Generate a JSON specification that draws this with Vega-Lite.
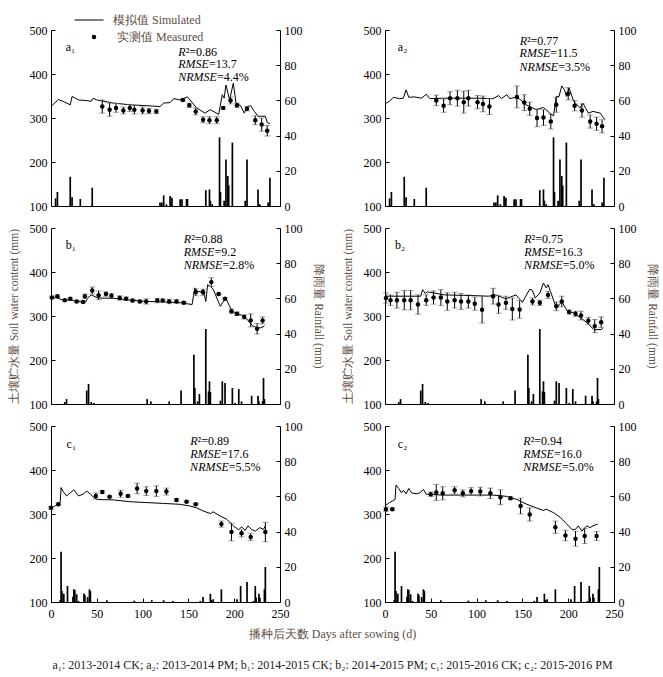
{
"$schema": "https://vega.github.io/schema/vega-lite/v6.json",
"padding": {"left": 8, "top": 5, "right": 5, "bottom": 4},
"background": "white",
"title": {"text": "播种后天数 Days after sowing (d)", "subtitle": "a₁: 2013-2014 CK; a₂: 2013-2014 PM; b₁: 2014-2015 CK; b₂: 2014-2015 PM; c₁: 2015-2016 CK; c₂: 2015-2016 PM", "orient": "bottom", "anchor": "middle", "fontSize": 12, "fontWeight": "normal", "font": "Liberation Serif", "color": "#5c4e44", "subtitleFont": "Liberation Serif", "subtitleFontSize": 12, "subtitleColor": "#222222", "subtitlePadding": 19, "offset": 10},
"datasets": {
"sim": [
{"p":"a1","d":0,"v":326},{"p":"a1","d":8,"v":342},{"p":"a1","d":13,"v":338},{"p":"a1","d":21,"v":330},{"p":"a1","d":23,"v":349},{"p":"a1","d":30,"v":341},{"p":"a1","d":37,"v":340},{"p":"a1","d":44,"v":338},{"p":"a1","d":46,"v":345},{"p":"a1","d":50,"v":341},{"p":"a1","d":68,"v":334},{"p":"a1","d":86,"v":330},{"p":"a1","d":104,"v":328},{"p":"a1","d":119,"v":326},{"p":"a1","d":123,"v":334},{"p":"a1","d":130,"v":335},{"p":"a1","d":134,"v":344},{"p":"a1","d":141,"v":341},{"p":"a1","d":149,"v":348},{"p":"a1","d":159,"v":323},{"p":"a1","d":168,"v":311},{"p":"a1","d":174,"v":319},{"p":"a1","d":183,"v":308},{"p":"a1","d":187,"v":353},{"p":"a1","d":189,"v":345},{"p":"a1","d":191,"v":375},{"p":"a1","d":195,"v":341},{"p":"a1","d":199,"v":379},{"p":"a1","d":202,"v":334},{"p":"a1","d":207,"v":328},{"p":"a1","d":211,"v":311},{"p":"a1","d":214,"v":326},{"p":"a1","d":218,"v":328},{"p":"a1","d":222,"v":315},{"p":"a1","d":226,"v":304},{"p":"a1","d":234,"v":304},{"p":"a1","d":236,"v":290},{"p":"a1","d":239,"v":287},
{"p":"a2","d":0,"v":332},{"p":"a2","d":5,"v":338},{"p":"a2","d":9,"v":347},{"p":"a2","d":16,"v":344},{"p":"a2","d":20,"v":345},{"p":"a2","d":23,"v":364},{"p":"a2","d":26,"v":347},{"p":"a2","d":32,"v":348},{"p":"a2","d":40,"v":345},{"p":"a2","d":45,"v":354},{"p":"a2","d":49,"v":344},{"p":"a2","d":63,"v":345},{"p":"a2","d":82,"v":345},{"p":"a2","d":100,"v":345},{"p":"a2","d":118,"v":344},{"p":"a2","d":124,"v":351},{"p":"a2","d":127,"v":344},{"p":"a2","d":133,"v":353},{"p":"a2","d":136,"v":344},{"p":"a2","d":142,"v":347},{"p":"a2","d":147,"v":343},{"p":"a2","d":155,"v":329},{"p":"a2","d":165,"v":319},{"p":"a2","d":173,"v":324},{"p":"a2","d":180,"v":311},{"p":"a2","d":184,"v":305},{"p":"a2","d":187,"v":349},{"p":"a2","d":190,"v":349},{"p":"a2","d":193,"v":373},{"p":"a2","d":196,"v":364},{"p":"a2","d":198,"v":349},{"p":"a2","d":201,"v":368},{"p":"a2","d":206,"v":338},{"p":"a2","d":213,"v":323},{"p":"a2","d":216,"v":334},{"p":"a2","d":222,"v":311},{"p":"a2","d":227,"v":315},{"p":"a2","d":235,"v":311},{"p":"a2","d":240,"v":296},
{"p":"b1","d":0,"v":342},{"p":"b1","d":7,"v":341},{"p":"b1","d":13,"v":336},{"p":"b1","d":22,"v":336},{"p":"b1","d":33,"v":333},{"p":"b1","d":38,"v":332},{"p":"b1","d":40,"v":341},{"p":"b1","d":44,"v":348},{"p":"b1","d":47,"v":345},{"p":"b1","d":51,"v":341},{"p":"b1","d":69,"v":340},{"p":"b1","d":87,"v":336},{"p":"b1","d":105,"v":333},{"p":"b1","d":124,"v":332},{"p":"b1","d":142,"v":330},{"p":"b1","d":154,"v":326},{"p":"b1","d":157,"v":364},{"p":"b1","d":160,"v":356},{"p":"b1","d":164,"v":355},{"p":"b1","d":166,"v":361},{"p":"b1","d":169,"v":333},{"p":"b1","d":171,"v":371},{"p":"b1","d":174,"v":367},{"p":"b1","d":177,"v":361},{"p":"b1","d":184,"v":326},{"p":"b1","d":185,"v":322},{"p":"b1","d":187,"v":330},{"p":"b1","d":191,"v":339},{"p":"b1","d":196,"v":318},{"p":"b1","d":200,"v":307},{"p":"b1","d":207,"v":303},{"p":"b1","d":213,"v":295},{"p":"b1","d":220,"v":278},{"p":"b1","d":225,"v":273},{"p":"b1","d":229,"v":273},{"p":"b1","d":233,"v":277},
{"p":"b2","d":0,"v":345},{"p":"b2","d":39,"v":345},{"p":"b2","d":41,"v":360},{"p":"b2","d":44,"v":351},{"p":"b2","d":46,"v":355},{"p":"b2","d":65,"v":348},{"p":"b2","d":83,"v":347},{"p":"b2","d":102,"v":346},{"p":"b2","d":113,"v":345},{"p":"b2","d":121,"v":348},{"p":"b2","d":132,"v":339},{"p":"b2","d":143,"v":348},{"p":"b2","d":150,"v":331},{"p":"b2","d":158,"v":361},{"p":"b2","d":161,"v":358},{"p":"b2","d":164,"v":341},{"p":"b2","d":169,"v":352},{"p":"b2","d":173,"v":375},{"p":"b2","d":176,"v":364},{"p":"b2","d":178,"v":371},{"p":"b2","d":182,"v":348},{"p":"b2","d":187,"v":318},{"p":"b2","d":193,"v":333},{"p":"b2","d":199,"v":311},{"p":"b2","d":206,"v":307},{"p":"b2","d":214,"v":295},{"p":"b2","d":221,"v":284},{"p":"b2","d":228,"v":269},{"p":"b2","d":236,"v":269},{"p":"b2","d":238,"v":273},
{"p":"c1","d":0,"v":313},{"p":"c1","d":4,"v":318},{"p":"c1","d":10,"v":326},{"p":"c1","d":11,"v":360},{"p":"c1","d":13,"v":352},{"p":"c1","d":17,"v":341},{"p":"c1","d":21,"v":348},{"p":"c1","d":25,"v":355},{"p":"c1","d":30,"v":341},{"p":"c1","d":35,"v":345},{"p":"c1","d":39,"v":352},{"p":"c1","d":43,"v":345},{"p":"c1","d":46,"v":339},{"p":"c1","d":50,"v":333},{"p":"c1","d":68,"v":332},{"p":"c1","d":86,"v":328},{"p":"c1","d":104,"v":326},{"p":"c1","d":123,"v":324},{"p":"c1","d":141,"v":322},{"p":"c1","d":152,"v":318},{"p":"c1","d":159,"v":314},{"p":"c1","d":166,"v":307},{"p":"c1","d":174,"v":301},{"p":"c1","d":177,"v":305},{"p":"c1","d":185,"v":295},{"p":"c1","d":192,"v":288},{"p":"c1","d":199,"v":273},{"p":"c1","d":205,"v":264},{"p":"c1","d":208,"v":271},{"p":"c1","d":212,"v":263},{"p":"c1","d":215,"v":273},{"p":"c1","d":219,"v":265},{"p":"c1","d":223,"v":261},{"p":"c1","d":228,"v":269},{"p":"c1","d":232,"v":265},{"p":"c1","d":234,"v":273},
{"p":"c2","d":0,"v":318},{"p":"c2","d":5,"v":326},{"p":"c2","d":11,"v":333},{"p":"c2","d":12,"v":366},{"p":"c2","d":15,"v":358},{"p":"c2","d":18,"v":348},{"p":"c2","d":20,"v":354},{"p":"c2","d":23,"v":346},{"p":"c2","d":26,"v":358},{"p":"c2","d":29,"v":348},{"p":"c2","d":34,"v":346},{"p":"c2","d":38,"v":348},{"p":"c2","d":42,"v":356},{"p":"c2","d":45,"v":345},{"p":"c2","d":63,"v":343},{"p":"c2","d":82,"v":343},{"p":"c2","d":100,"v":343},{"p":"c2","d":118,"v":343},{"p":"c2","d":133,"v":340},{"p":"c2","d":144,"v":333},{"p":"c2","d":155,"v":322},{"p":"c2","d":165,"v":314},{"p":"c2","d":173,"v":308},{"p":"c2","d":176,"v":311},{"p":"c2","d":184,"v":303},{"p":"c2","d":191,"v":293},{"p":"c2","d":198,"v":278},{"p":"c2","d":204,"v":265},{"p":"c2","d":208,"v":265},{"p":"c2","d":211,"v":273},{"p":"c2","d":215,"v":261},{"p":"c2","d":220,"v":273},{"p":"c2","d":224,"v":269},{"p":"c2","d":227,"v":273},{"p":"c2","d":232,"v":277}
],
"obs": [
{"p":"a1","d":56,"v":326,"e":15},{"p":"a1","d":64,"v":319,"e":15},{"p":"a1","d":71,"v":323,"e":10},{"p":"a1","d":79,"v":317,"e":8},{"p":"a1","d":86,"v":323,"e":8},{"p":"a1","d":91,"v":319,"e":10},{"p":"a1","d":100,"v":317,"e":8},{"p":"a1","d":107,"v":316,"e":6},{"p":"a1","d":115,"v":315,"e":5},{"p":"a1","d":144,"v":341,"e":3},{"p":"a1","d":151,"v":329,"e":5},{"p":"a1","d":158,"v":315,"e":8},{"p":"a1","d":166,"v":296,"e":7},{"p":"a1","d":173,"v":295,"e":8},{"p":"a1","d":181,"v":295,"e":8},{"p":"a1","d":188,"v":323,"e":3},{"p":"a1","d":196,"v":340,"e":8},{"p":"a1","d":203,"v":329,"e":5},{"p":"a1","d":214,"v":321,"e":5},{"p":"a1","d":223,"v":295,"e":10},{"p":"a1","d":230,"v":285,"e":15},{"p":"a1","d":236,"v":271,"e":12},
{"p":"a2","d":56,"v":340,"e":12},{"p":"a2","d":64,"v":328,"e":15},{"p":"a2","d":71,"v":345,"e":15},{"p":"a2","d":79,"v":345,"e":18},{"p":"a2","d":86,"v":336,"e":25},{"p":"a2","d":91,"v":345,"e":18},{"p":"a2","d":101,"v":336,"e":15},{"p":"a2","d":107,"v":332,"e":18},{"p":"a2","d":114,"v":326,"e":18},{"p":"a2","d":144,"v":348,"e":25},{"p":"a2","d":152,"v":335,"e":18},{"p":"a2","d":158,"v":321,"e":15},{"p":"a2","d":166,"v":300,"e":20},{"p":"a2","d":173,"v":301,"e":18},{"p":"a2","d":181,"v":292,"e":17},{"p":"a2","d":187,"v":330,"e":17},{"p":"a2","d":200,"v":355,"e":14},{"p":"a2","d":207,"v":328,"e":12},{"p":"a2","d":215,"v":317,"e":15},{"p":"a2","d":224,"v":292,"e":15},{"p":"a2","d":231,"v":287,"e":15},{"p":"a2","d":237,"v":281,"e":15},
{"p":"b1","d":1,"v":342,"e":3},{"p":"b1","d":7,"v":345,"e":3},{"p":"b1","d":15,"v":336,"e":2},{"p":"b1","d":21,"v":339,"e":2},{"p":"b1","d":28,"v":333,"e":2},{"p":"b1","d":35,"v":332,"e":2},{"p":"b1","d":37,"v":345,"e":5},{"p":"b1","d":45,"v":358,"e":8},{"p":"b1","d":52,"v":347,"e":10},{"p":"b1","d":60,"v":350,"e":5},{"p":"b1","d":66,"v":346,"e":5},{"p":"b1","d":75,"v":341,"e":5},{"p":"b1","d":82,"v":339,"e":4},{"p":"b1","d":89,"v":335,"e":3},{"p":"b1","d":97,"v":333,"e":3},{"p":"b1","d":104,"v":333,"e":6},{"p":"b1","d":116,"v":335,"e":5},{"p":"b1","d":122,"v":335,"e":3},{"p":"b1","d":129,"v":333,"e":5},{"p":"b1","d":137,"v":333,"e":4},{"p":"b1","d":145,"v":330,"e":3},{"p":"b1","d":158,"v":354,"e":8},{"p":"b1","d":166,"v":354,"e":7},{"p":"b1","d":175,"v":377,"e":10},{"p":"b1","d":183,"v":350,"e":2},{"p":"b1","d":190,"v":339,"e":3},{"p":"b1","d":197,"v":311,"e":5},{"p":"b1","d":203,"v":305,"e":4},{"p":"b1","d":211,"v":298,"e":5},{"p":"b1","d":218,"v":290,"e":15},{"p":"b1","d":225,"v":271,"e":12},{"p":"b1","d":231,"v":290,"e":8},
{"p":"b2","d":1,"v":341,"e":12},{"p":"b2","d":6,"v":336,"e":12},{"p":"b2","d":13,"v":336,"e":18},{"p":"b2","d":21,"v":336,"e":22},{"p":"b2","d":28,"v":336,"e":22},{"p":"b2","d":36,"v":326,"e":22},{"p":"b2","d":45,"v":336,"e":12},{"p":"b2","d":53,"v":342,"e":15},{"p":"b2","d":61,"v":342,"e":18},{"p":"b2","d":68,"v":333,"e":20},{"p":"b2","d":76,"v":336,"e":18},{"p":"b2","d":83,"v":333,"e":18},{"p":"b2","d":91,"v":333,"e":15},{"p":"b2","d":98,"v":328,"e":15},{"p":"b2","d":106,"v":314,"e":30},{"p":"b2","d":118,"v":345,"e":18},{"p":"b2","d":124,"v":326,"e":20},{"p":"b2","d":132,"v":330,"e":15},{"p":"b2","d":139,"v":316,"e":25},{"p":"b2","d":147,"v":315,"e":20},{"p":"b2","d":161,"v":333,"e":8},{"p":"b2","d":169,"v":330,"e":6},{"p":"b2","d":178,"v":348,"e":8},{"p":"b2","d":187,"v":322,"e":10},{"p":"b2","d":193,"v":333,"e":12},{"p":"b2","d":201,"v":309,"e":5},{"p":"b2","d":208,"v":305,"e":6},{"p":"b2","d":214,"v":301,"e":10},{"p":"b2","d":222,"v":289,"e":8},{"p":"b2","d":229,"v":277,"e":15},{"p":"b2","d":236,"v":286,"e":12},
{"p":"c1","d":0,"v":314,"e":3},{"p":"c1","d":8,"v":322,"e":3},{"p":"c1","d":49,"v":341,"e":7},{"p":"c1","d":56,"v":350,"e":3},{"p":"c1","d":64,"v":339,"e":2},{"p":"c1","d":76,"v":346,"e":8},{"p":"c1","d":84,"v":341,"e":2},{"p":"c1","d":94,"v":358,"e":12},{"p":"c1","d":104,"v":352,"e":10},{"p":"c1","d":115,"v":352,"e":12},{"p":"c1","d":126,"v":351,"e":8},{"p":"c1","d":137,"v":332,"e":3},{"p":"c1","d":148,"v":328,"e":2},{"p":"c1","d":158,"v":322,"e":2},{"p":"c1","d":186,"v":277,"e":7},{"p":"c1","d":197,"v":259,"e":20},{"p":"c1","d":208,"v":256,"e":8},{"p":"c1","d":218,"v":248,"e":8},{"p":"c1","d":234,"v":259,"e":22},
{"p":"c2","d":1,"v":311,"e":5},{"p":"c2","d":8,"v":311,"e":3},{"p":"c2","d":50,"v":345,"e":5},{"p":"c2","d":56,"v":349,"e":18},{"p":"c2","d":63,"v":347,"e":15},{"p":"c2","d":76,"v":354,"e":8},{"p":"c2","d":85,"v":347,"e":8},{"p":"c2","d":94,"v":352,"e":8},{"p":"c2","d":104,"v":351,"e":10},{"p":"c2","d":115,"v":347,"e":12},{"p":"c2","d":126,"v":338,"e":17},{"p":"c2","d":137,"v":336,"e":3},{"p":"c2","d":148,"v":318,"e":18},{"p":"c2","d":158,"v":299,"e":15},{"p":"c2","d":186,"v":270,"e":14},{"p":"c2","d":197,"v":251,"e":12},{"p":"c2","d":208,"v":244,"e":17},{"p":"c2","d":218,"v":250,"e":17},{"p":"c2","d":231,"v":250,"e":10}
],
"rain": [
{"p":"a","d":5,"r":4.3},{"p":"a","d":7,"r":8},{"p":"a","d":21,"r":16.6},{"p":"a","d":23,"r":5},{"p":"a","d":32,"r":4},{"p":"a","d":45,"r":10.4},{"p":"a","d":119,"r":2},{"p":"a","d":121,"r":2},{"p":"a","d":123,"r":6},{"p":"a","d":126,"r":1},{"p":"a","d":130,"r":5.7},{"p":"a","d":132,"r":4.7},{"p":"a","d":141,"r":3.8},{"p":"a","d":143,"r":3.8},{"p":"a","d":148,"r":4},{"p":"a","d":149,"r":4},{"p":"a","d":169,"r":9},{"p":"a","d":173,"r":9.4},{"p":"a","d":174,"r":3},{"p":"a","d":176,"r":1},{"p":"a","d":184,"r":39},{"p":"a","d":185,"r":8},{"p":"a","d":189,"r":3},{"p":"a","d":191,"r":26.4},{"p":"a","d":193,"r":17},{"p":"a","d":194,"r":11.7},{"p":"a","d":198,"r":36},{"p":"a","d":212,"r":3},{"p":"a","d":214,"r":26.4},{"p":"a","d":226,"r":9.4},{"p":"a","d":228,"r":1},{"p":"a","d":237,"r":2},{"p":"a","d":239,"r":16},
{"p":"b","d":15,"r":1.1},{"p":"b","d":17,"r":2.8},{"p":"b","d":39,"r":7.6},{"p":"b","d":41,"r":11.4},{"p":"b","d":44,"r":1.1},{"p":"b","d":47,"r":0.6},{"p":"b","d":105,"r":2.8},{"p":"b","d":109,"r":1.5},{"p":"b","d":129,"r":1.5},{"p":"b","d":142,"r":7.6},{"p":"b","d":156,"r":28},{"p":"b","d":157,"r":9.1},{"p":"b","d":160,"r":1.5},{"p":"b","d":162,"r":5.7},{"p":"b","d":169,"r":42.6},{"p":"b","d":172,"r":7.2},{"p":"b","d":173,"r":12.9},{"p":"b","d":174,"r":6.8},{"p":"b","d":185,"r":1.9},{"p":"b","d":187,"r":12.9},{"p":"b","d":190,"r":11.9},{"p":"b","d":198,"r":9.1},{"p":"b","d":201,"r":0.6},{"p":"b","d":205,"r":8.5},{"p":"b","d":208,"r":1.5},{"p":"b","d":219,"r":4.7},{"p":"b","d":226,"r":4.7},{"p":"b","d":227,"r":1.5},{"p":"b","d":231,"r":1.5},{"p":"b","d":232,"r":14.8},{"p":"b","d":233,"r":2.8},
{"p":"c","d":10,"r":1},{"p":"c","d":11,"r":28.6},{"p":"c","d":12,"r":6.2},{"p":"c","d":14,"r":4.7},{"p":"c","d":18,"r":9.1},{"p":"c","d":24,"r":3},{"p":"c","d":25,"r":7.2},{"p":"c","d":26,"r":6.8},{"p":"c","d":28,"r":4.4},{"p":"c","d":30,"r":0.6},{"p":"c","d":36,"r":4.9},{"p":"c","d":37,"r":3.8},{"p":"c","d":40,"r":2.8},{"p":"c","d":42,"r":7.2},{"p":"c","d":43,"r":6.2},{"p":"c","d":61,"r":1},{"p":"c","d":91,"r":0.8},{"p":"c","d":110,"r":1},{"p":"c","d":123,"r":1},{"p":"c","d":133,"r":0.6},{"p":"c","d":163,"r":0.6},{"p":"c","d":166,"r":2.8},{"p":"c","d":174,"r":4.7},{"p":"c","d":175,"r":1.1},{"p":"c","d":177,"r":1.5},{"p":"c","d":186,"r":7.2},{"p":"c","d":203,"r":1.5},{"p":"c","d":207,"r":9.1},{"p":"c","d":214,"r":11.4},{"p":"c","d":221,"r":0.6},{"p":"c","d":223,"r":9.1},{"p":"c","d":224,"r":2.5},{"p":"c","d":227,"r":4.7},{"p":"c","d":228,"r":2.5},{"p":"c","d":233,"r":7.2},{"p":"c","d":234,"r":19.9}
],
"note": [
{"p":"a1","xs":147,"y":451,"it":"R","tx":"²=0.86"},{"p":"a1","xs":172.4,"y":423,"it":"RMSE","tx":"=13.7"},{"p":"a1","xs":181.1,"y":394,"it":"NRMSE","tx":"=4.4%"},
{"p":"a2","xs":155,"y":474,"it":"R","tx":"²=0.77"},{"p":"a2","xs":180.4,"y":447,"it":"RMSE","tx":"=11.5"},{"p":"a2","xs":189.1,"y":417,"it":"NRMSE","tx":"=3.5%"},
{"p":"b1","xs":153,"y":475,"it":"R","tx":"²=0.88"},{"p":"b1","xs":178.4,"y":445,"it":"RMSE","tx":"=9.2"},{"p":"b1","xs":187.1,"y":415,"it":"NRMSE","tx":"=2.8%"},
{"p":"b2","xs":160,"y":475,"it":"R","tx":"²=0.75"},{"p":"b2","xs":185.4,"y":445,"it":"RMSE","tx":"=16.3"},{"p":"b2","xs":194.1,"y":415,"it":"NRMSE","tx":"=5.0%"},
{"p":"c1","xs":160,"y":466,"it":"R","tx":"²=0.89"},{"p":"c1","xs":185.4,"y":436,"it":"RMSE","tx":"=17.6"},{"p":"c1","xs":194.1,"y":407,"it":"NRMSE","tx":"=5.5%"},
{"p":"c2","xs":159,"y":466,"it":"R","tx":"²=0.94"},{"p":"c2","xs":184.4,"y":436,"it":"RMSE","tx":"=16.0"},{"p":"c2","xs":193.1,"y":407,"it":"NRMSE","tx":"=5.0%"}
],
"tag": [
{"p":"a1","x":16,"y":462,"t":"a₁"},{"p":"a2","x":14,"y":462,"t":"a₂"},{"p":"b1","x":16,"y":461,"t":"b₁"},{"p":"b2","x":11,"y":461,"t":"b₂"},{"p":"c1","x":17,"y":458,"t":"c₁"},{"p":"c2","x":14,"y":458,"t":"c₂"}
]
},
"concat": [
{"width": 229, "height": 176, "resolve": {"scale": {"y": "independent"}, "axis": {"x": "independent"}}, "layer": [
 {"data": {"name": "sim"}, "transform": [{"filter": "datum.p=='a1'"}], "mark": {"type": "line", "strokeWidth": 1},
  "encoding": {"x": {"field": "d", "type": "quantitative", "scale": {"domain": [0, 250], "nice": false, "padding": 0}, "axis": {"labels": false, "ticks": false, "title": null}},
   "y": {"field": "v", "type": "quantitative", "scale": {"domain": [100, 500]}, "axis": {"orient": "left", "values": [100,200,300,400,500], "title": null}},
   "color": {"datum": "模拟值 Simulated", "type": "nominal", "scale": {"range": ["black"]}, "legend": {"orient": "none", "legendX": 23, "legendY": -25, "title": null, "symbolSize": 841, "symbolStrokeWidth": 1, "labelOffset": 9, "padding": 0}}}},
 {"data": {"name": "rain"}, "transform": [{"filter": "datum.p=='a'"}], "mark": {"type": "bar", "color": "black", "width": 1.7},
  "encoding": {"x": {"field": "d", "type": "quantitative", "axis": null},
   "y": {"field": "r", "type": "quantitative", "scale": {"domain": [0, 100]}, "axis": {"orient": "right", "values": [0,20,40,60,80,100], "title": null}}}},
 {"data": {"name": "obs"}, "transform": [{"filter": "datum.p=='a1'"}], "mark": {"type": "errorbar", "color": "black", "ticks": {"color": "#7f7f7f", "size": 6}},
  "encoding": {"x": {"field": "d", "type": "quantitative", "axis": null}, "y": {"field": "v", "type": "quantitative", "scale": {"domain": [100, 500]}, "axis": null}, "yError": {"field": "e"}}},
 {"data": {"name": "obs"}, "transform": [{"filter": "datum.p=='a1'"}], "mark": {"type": "point", "filled": true, "color": "black", "size": 20, "opacity": 1},
  "encoding": {"x": {"field": "d", "type": "quantitative", "axis": null}, "y": {"field": "v", "type": "quantitative", "scale": {"domain": [100, 500]}, "axis": null},
   "shape": {"datum": "实测值 Measured", "type": "nominal", "scale": {"range": ["circle"]}, "legend": {"orient": "none", "legendX": 37, "legendY": 1, "title": null, "symbolSize": 20, "labelOffset": 17, "padding": 0}}}},
 {"data": {"name": "note"}, "transform": [{"filter": "datum.p=='a1'"}], "mark": {"type": "text", "align": "right", "baseline": "middle", "fontStyle": "italic", "fontSize": 12},
  "encoding": {"x": {"field": "xs", "type": "quantitative", "axis": null}, "y": {"field": "y", "type": "quantitative", "scale": {"domain": [100, 500]}, "axis": null}, "text": {"field": "it"}}},
 {"data": {"name": "note"}, "transform": [{"filter": "datum.p=='a1'"}], "mark": {"type": "text", "align": "left", "baseline": "middle", "fontSize": 12},
  "encoding": {"x": {"field": "xs", "type": "quantitative", "axis": null}, "y": {"field": "y", "type": "quantitative", "scale": {"domain": [100, 500]}, "axis": null}, "text": {"field": "tx"}}},
 {"data": {"name": "tag"}, "transform": [{"filter": "datum.p=='a1'"}], "mark": {"type": "text", "align": "left", "baseline": "middle", "fontSize": 12},
  "encoding": {"x": {"field": "x", "type": "quantitative", "axis": null}, "y": {"field": "y", "type": "quantitative", "scale": {"domain": [100, 500]}, "axis": null}, "text": {"field": "t"}}}
]},
{"width": 229, "height": 176, "resolve": {"scale": {"y": "independent"}, "axis": {"x": "independent"}}, "layer": [
 {"data": {"name": "sim"}, "transform": [{"filter": "datum.p=='a2'"}], "mark": {"type": "line", "strokeWidth": 1, "color": "black"},
  "encoding": {"x": {"field": "d", "type": "quantitative", "scale": {"domain": [0, 250], "nice": false, "padding": 0}, "axis": {"labels": false, "ticks": false, "title": null}},
   "y": {"field": "v", "type": "quantitative", "scale": {"domain": [100, 500]}, "axis": {"orient": "left", "values": [100,200,300,400,500], "title": null}}}},
 {"data": {"name": "rain"}, "transform": [{"filter": "datum.p=='a'"}], "mark": {"type": "bar", "color": "black", "width": 1.7},
  "encoding": {"x": {"field": "d", "type": "quantitative", "axis": null},
   "y": {"field": "r", "type": "quantitative", "scale": {"domain": [0, 100]}, "axis": {"orient": "right", "values": [0,20,40,60,80,100], "title": null}}}},
 {"data": {"name": "obs"}, "transform": [{"filter": "datum.p=='a2'"}], "mark": {"type": "errorbar", "color": "black", "ticks": {"color": "#7f7f7f", "size": 6}},
  "encoding": {"x": {"field": "d", "type": "quantitative", "axis": null}, "y": {"field": "v", "type": "quantitative", "scale": {"domain": [100, 500]}, "axis": null}, "yError": {"field": "e"}}},
 {"data": {"name": "obs"}, "transform": [{"filter": "datum.p=='a2'"}], "mark": {"type": "point", "filled": true, "color": "black", "size": 20, "opacity": 1},
  "encoding": {"x": {"field": "d", "type": "quantitative", "axis": null}, "y": {"field": "v", "type": "quantitative", "scale": {"domain": [100, 500]}, "axis": null}}},
 {"data": {"name": "note"}, "transform": [{"filter": "datum.p=='a2'"}], "mark": {"type": "text", "align": "right", "baseline": "middle", "fontStyle": "italic", "fontSize": 12},
  "encoding": {"x": {"field": "xs", "type": "quantitative", "axis": null}, "y": {"field": "y", "type": "quantitative", "scale": {"domain": [100, 500]}, "axis": null}, "text": {"field": "it"}}},
 {"data": {"name": "note"}, "transform": [{"filter": "datum.p=='a2'"}], "mark": {"type": "text", "align": "left", "baseline": "middle", "fontSize": 12},
  "encoding": {"x": {"field": "xs", "type": "quantitative", "axis": null}, "y": {"field": "y", "type": "quantitative", "scale": {"domain": [100, 500]}, "axis": null}, "text": {"field": "tx"}}},
 {"data": {"name": "tag"}, "transform": [{"filter": "datum.p=='a2'"}], "mark": {"type": "text", "align": "left", "baseline": "middle", "fontSize": 12},
  "encoding": {"x": {"field": "x", "type": "quantitative", "axis": null}, "y": {"field": "y", "type": "quantitative", "scale": {"domain": [100, 500]}, "axis": null}, "text": {"field": "t"}}}
]},
{"width": 229, "height": 176, "resolve": {"scale": {"y": "independent"}, "axis": {"x": "independent"}}, "layer": [
 {"data": {"name": "sim"}, "transform": [{"filter": "datum.p=='b1'"}], "mark": {"type": "line", "strokeWidth": 1, "color": "black"},
  "encoding": {"x": {"field": "d", "type": "quantitative", "scale": {"domain": [0, 250], "nice": false, "padding": 0}, "axis": {"labels": false, "ticks": false, "title": null}},
   "y": {"field": "v", "type": "quantitative", "scale": {"domain": [100, 500]}, "axis": {"orient": "left", "values": [100,200,300,400,500], "title": "土壤贮水量 Soil water content (mm)"}}}},
 {"data": {"name": "rain"}, "transform": [{"filter": "datum.p=='b'"}], "mark": {"type": "bar", "color": "black", "width": 1.7},
  "encoding": {"x": {"field": "d", "type": "quantitative", "axis": null},
   "y": {"field": "r", "type": "quantitative", "scale": {"domain": [0, 100]}, "axis": {"orient": "right", "values": [0,20,40,60,80,100], "title": "降雨量 Rainfall (mm)"}}}},
 {"data": {"name": "obs"}, "transform": [{"filter": "datum.p=='b1'"}], "mark": {"type": "errorbar", "color": "black", "ticks": {"color": "#7f7f7f", "size": 6}},
  "encoding": {"x": {"field": "d", "type": "quantitative", "axis": null}, "y": {"field": "v", "type": "quantitative", "scale": {"domain": [100, 500]}, "axis": null}, "yError": {"field": "e"}}},
 {"data": {"name": "obs"}, "transform": [{"filter": "datum.p=='b1'"}], "mark": {"type": "point", "filled": true, "color": "black", "size": 20, "opacity": 1},
  "encoding": {"x": {"field": "d", "type": "quantitative", "axis": null}, "y": {"field": "v", "type": "quantitative", "scale": {"domain": [100, 500]}, "axis": null}}},
 {"data": {"name": "note"}, "transform": [{"filter": "datum.p=='b1'"}], "mark": {"type": "text", "align": "right", "baseline": "middle", "fontStyle": "italic", "fontSize": 12},
  "encoding": {"x": {"field": "xs", "type": "quantitative", "axis": null}, "y": {"field": "y", "type": "quantitative", "scale": {"domain": [100, 500]}, "axis": null}, "text": {"field": "it"}}},
 {"data": {"name": "note"}, "transform": [{"filter": "datum.p=='b1'"}], "mark": {"type": "text", "align": "left", "baseline": "middle", "fontSize": 12},
  "encoding": {"x": {"field": "xs", "type": "quantitative", "axis": null}, "y": {"field": "y", "type": "quantitative", "scale": {"domain": [100, 500]}, "axis": null}, "text": {"field": "tx"}}},
 {"data": {"name": "tag"}, "transform": [{"filter": "datum.p=='b1'"}], "mark": {"type": "text", "align": "left", "baseline": "middle", "fontSize": 12},
  "encoding": {"x": {"field": "x", "type": "quantitative", "axis": null}, "y": {"field": "y", "type": "quantitative", "scale": {"domain": [100, 500]}, "axis": null}, "text": {"field": "t"}}}
]},
{"width": 229, "height": 176, "resolve": {"scale": {"y": "independent"}, "axis": {"x": "independent"}}, "layer": [
 {"data": {"name": "sim"}, "transform": [{"filter": "datum.p=='b2'"}], "mark": {"type": "line", "strokeWidth": 1, "color": "black"},
  "encoding": {"x": {"field": "d", "type": "quantitative", "scale": {"domain": [0, 250], "nice": false, "padding": 0}, "axis": {"labels": false, "ticks": false, "title": null}},
   "y": {"field": "v", "type": "quantitative", "scale": {"domain": [100, 500]}, "axis": {"orient": "left", "values": [100,200,300,400,500], "title": "土壤贮水量 Soil water content (mm)"}}}},
 {"data": {"name": "rain"}, "transform": [{"filter": "datum.p=='b'"}], "mark": {"type": "bar", "color": "black", "width": 1.7},
  "encoding": {"x": {"field": "d", "type": "quantitative", "axis": null},
   "y": {"field": "r", "type": "quantitative", "scale": {"domain": [0, 100]}, "axis": {"orient": "right", "values": [0,20,40,60,80,100], "title": "降雨量 Rainfall (mm)"}}}},
 {"data": {"name": "obs"}, "transform": [{"filter": "datum.p=='b2'"}], "mark": {"type": "errorbar", "color": "black", "ticks": {"color": "#7f7f7f", "size": 6}},
  "encoding": {"x": {"field": "d", "type": "quantitative", "axis": null}, "y": {"field": "v", "type": "quantitative", "scale": {"domain": [100, 500]}, "axis": null}, "yError": {"field": "e"}}},
 {"data": {"name": "obs"}, "transform": [{"filter": "datum.p=='b2'"}], "mark": {"type": "point", "filled": true, "color": "black", "size": 20, "opacity": 1},
  "encoding": {"x": {"field": "d", "type": "quantitative", "axis": null}, "y": {"field": "v", "type": "quantitative", "scale": {"domain": [100, 500]}, "axis": null}}},
 {"data": {"name": "note"}, "transform": [{"filter": "datum.p=='b2'"}], "mark": {"type": "text", "align": "right", "baseline": "middle", "fontStyle": "italic", "fontSize": 12},
  "encoding": {"x": {"field": "xs", "type": "quantitative", "axis": null}, "y": {"field": "y", "type": "quantitative", "scale": {"domain": [100, 500]}, "axis": null}, "text": {"field": "it"}}},
 {"data": {"name": "note"}, "transform": [{"filter": "datum.p=='b2'"}], "mark": {"type": "text", "align": "left", "baseline": "middle", "fontSize": 12},
  "encoding": {"x": {"field": "xs", "type": "quantitative", "axis": null}, "y": {"field": "y", "type": "quantitative", "scale": {"domain": [100, 500]}, "axis": null}, "text": {"field": "tx"}}},
 {"data": {"name": "tag"}, "transform": [{"filter": "datum.p=='b2'"}], "mark": {"type": "text", "align": "left", "baseline": "middle", "fontSize": 12},
  "encoding": {"x": {"field": "x", "type": "quantitative", "axis": null}, "y": {"field": "y", "type": "quantitative", "scale": {"domain": [100, 500]}, "axis": null}, "text": {"field": "t"}}}
]},
{"width": 229, "height": 176, "resolve": {"scale": {"y": "independent"}, "axis": {"x": "independent"}}, "layer": [
 {"data": {"name": "sim"}, "transform": [{"filter": "datum.p=='c1'"}], "mark": {"type": "line", "strokeWidth": 1, "color": "black"},
  "encoding": {"x": {"field": "d", "type": "quantitative", "scale": {"domain": [0, 250], "nice": false, "padding": 0}, "axis": {"values": [0,50,100,150,200,250], "title": null, "labelPadding": 10}},
   "y": {"field": "v", "type": "quantitative", "scale": {"domain": [100, 500]}, "axis": {"orient": "left", "values": [100,200,300,400,500], "title": null}}}},
 {"data": {"name": "rain"}, "transform": [{"filter": "datum.p=='c'"}], "mark": {"type": "bar", "color": "black", "width": 1.7},
  "encoding": {"x": {"field": "d", "type": "quantitative", "axis": null},
   "y": {"field": "r", "type": "quantitative", "scale": {"domain": [0, 100]}, "axis": {"orient": "right", "values": [0,20,40,60,80,100], "title": null}}}},
 {"data": {"name": "obs"}, "transform": [{"filter": "datum.p=='c1'"}], "mark": {"type": "errorbar", "color": "black", "ticks": {"color": "#7f7f7f", "size": 6}},
  "encoding": {"x": {"field": "d", "type": "quantitative", "axis": null}, "y": {"field": "v", "type": "quantitative", "scale": {"domain": [100, 500]}, "axis": null}, "yError": {"field": "e"}}},
 {"data": {"name": "obs"}, "transform": [{"filter": "datum.p=='c1'"}], "mark": {"type": "point", "filled": true, "color": "black", "size": 20, "opacity": 1},
  "encoding": {"x": {"field": "d", "type": "quantitative", "axis": null}, "y": {"field": "v", "type": "quantitative", "scale": {"domain": [100, 500]}, "axis": null}}},
 {"data": {"name": "note"}, "transform": [{"filter": "datum.p=='c1'"}], "mark": {"type": "text", "align": "right", "baseline": "middle", "fontStyle": "italic", "fontSize": 12},
  "encoding": {"x": {"field": "xs", "type": "quantitative", "axis": null}, "y": {"field": "y", "type": "quantitative", "scale": {"domain": [100, 500]}, "axis": null}, "text": {"field": "it"}}},
 {"data": {"name": "note"}, "transform": [{"filter": "datum.p=='c1'"}], "mark": {"type": "text", "align": "left", "baseline": "middle", "fontSize": 12},
  "encoding": {"x": {"field": "xs", "type": "quantitative", "axis": null}, "y": {"field": "y", "type": "quantitative", "scale": {"domain": [100, 500]}, "axis": null}, "text": {"field": "tx"}}},
 {"data": {"name": "tag"}, "transform": [{"filter": "datum.p=='c1'"}], "mark": {"type": "text", "align": "left", "baseline": "middle", "fontSize": 12},
  "encoding": {"x": {"field": "x", "type": "quantitative", "axis": null}, "y": {"field": "y", "type": "quantitative", "scale": {"domain": [100, 500]}, "axis": null}, "text": {"field": "t"}}}
]},
{"width": 229, "height": 176, "resolve": {"scale": {"y": "independent"}, "axis": {"x": "independent"}}, "layer": [
 {"data": {"name": "sim"}, "transform": [{"filter": "datum.p=='c2'"}], "mark": {"type": "line", "strokeWidth": 1, "color": "black"},
  "encoding": {"x": {"field": "d", "type": "quantitative", "scale": {"domain": [0, 250], "nice": false, "padding": 0}, "axis": {"values": [0,50,100,150,200,250], "title": null, "labelPadding": 10}},
   "y": {"field": "v", "type": "quantitative", "scale": {"domain": [100, 500]}, "axis": {"orient": "left", "values": [100,200,300,400,500], "title": null}}}},
 {"data": {"name": "rain"}, "transform": [{"filter": "datum.p=='c'"}], "mark": {"type": "bar", "color": "black", "width": 1.7},
  "encoding": {"x": {"field": "d", "type": "quantitative", "axis": null},
   "y": {"field": "r", "type": "quantitative", "scale": {"domain": [0, 100]}, "axis": {"orient": "right", "values": [0,20,40,60,80,100], "title": null}}}},
 {"data": {"name": "obs"}, "transform": [{"filter": "datum.p=='c2'"}], "mark": {"type": "errorbar", "color": "black", "ticks": {"color": "#7f7f7f", "size": 6}},
  "encoding": {"x": {"field": "d", "type": "quantitative", "axis": null}, "y": {"field": "v", "type": "quantitative", "scale": {"domain": [100, 500]}, "axis": null}, "yError": {"field": "e"}}},
 {"data": {"name": "obs"}, "transform": [{"filter": "datum.p=='c2'"}], "mark": {"type": "point", "filled": true, "color": "black", "size": 20, "opacity": 1},
  "encoding": {"x": {"field": "d", "type": "quantitative", "axis": null}, "y": {"field": "v", "type": "quantitative", "scale": {"domain": [100, 500]}, "axis": null}}},
 {"data": {"name": "note"}, "transform": [{"filter": "datum.p=='c2'"}], "mark": {"type": "text", "align": "right", "baseline": "middle", "fontStyle": "italic", "fontSize": 12},
  "encoding": {"x": {"field": "xs", "type": "quantitative", "axis": null}, "y": {"field": "y", "type": "quantitative", "scale": {"domain": [100, 500]}, "axis": null}, "text": {"field": "it"}}},
 {"data": {"name": "note"}, "transform": [{"filter": "datum.p=='c2'"}], "mark": {"type": "text", "align": "left", "baseline": "middle", "fontSize": 12},
  "encoding": {"x": {"field": "xs", "type": "quantitative", "axis": null}, "y": {"field": "y", "type": "quantitative", "scale": {"domain": [100, 500]}, "axis": null}, "text": {"field": "tx"}}},
 {"data": {"name": "tag"}, "transform": [{"filter": "datum.p=='c2'"}], "mark": {"type": "text", "align": "left", "baseline": "middle", "fontSize": 12},
  "encoding": {"x": {"field": "x", "type": "quantitative", "axis": null}, "y": {"field": "y", "type": "quantitative", "scale": {"domain": [100, 500]}, "axis": null}, "text": {"field": "t"}}}
]}
],
"columns": 2,
"spacing": {"row": 22, "column": 105},
"bounds": "flush",
"config": {
 "view": {"stroke": null},
 "font": "Liberation Serif",
 "text": {"font": "Liberation Serif", "color": "black"},
 "axis": {"labelFont": "Liberation Serif", "labelFontSize": 12, "labelColor": "black", "domainColor": "black", "tickColor": "black", "tickSize": -4, "labelPadding": 8, "labelFlush": false, "grid": false, "titleFont": "Liberation Serif", "titleFontSize": 11.5, "titleFontWeight": "normal", "titleColor": "#5c4e44", "titlePadding": 10},
 "legend": {"labelFont": "Liberation Serif", "labelFontSize": 12, "labelColor": "#5c4e44"}
}
}
